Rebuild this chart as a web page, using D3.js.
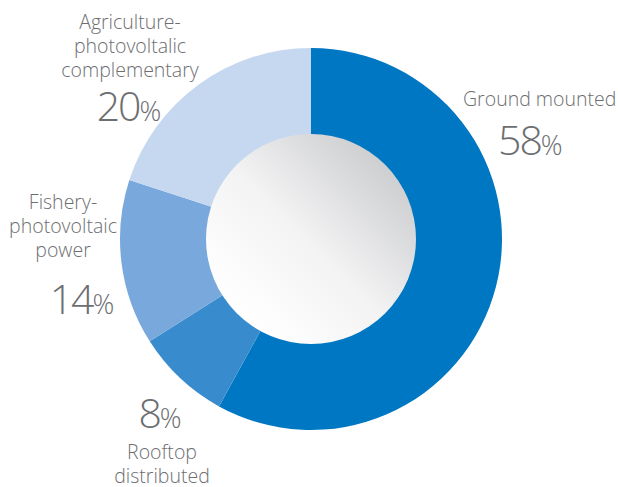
<!DOCTYPE html>
<html>
<head>
<meta charset="utf-8">
<script src="https://cdn.jsdelivr.net/npm/d3@7"></script>
<style>
  html, body { margin: 0; padding: 0; background: #fff; }
  svg { display: block; }
  text { font-family: "Open Sans", sans-serif; fill: #6d6e71; }
</style>
</head>
<body>
<div id="chart"></div>
<script>
// Data
const categories = ["Ground mounted", "Rooftop distributed", "Fishery-photovoltaic power", "Agriculture-photovoltalic complementary"];
const values = [58, 8, 14, 20];
const sliceColors = ["#0077c2", "#388cce", "#79a9dc", "#c6d8ef"];
const labelLines = [
    ["Ground mounted"],
    ["Rooftop", "distributed"],
    ["Fishery-", "photovoltaic", "power"],
    ["Agriculture-", "photovoltalic", "complementary"]
];

// Label layout (x of text, baseline of first line, baseline of percent, percent x, percent anchor)
const labelLayout = [
    { x: 463, anchor: "start", y: 106, px: 498, py: 155, panchor: "start" },
    { x: 162, anchor: "middle", y: 459, px: 160, py: 428, panchor: "middle" },
    { x: 63, anchor: "middle", y: 209, px: 82, py: 314, panchor: "middle" },
    { x: 130, anchor: "middle", y: 29, px: 129, py: 121, panchor: "middle" }
];

const width = 618;
const height = 487;
const cx = 311, cy = 239;
const outerR = 191, innerR = 105;

const svg = d3.select('#chart')
    .append('svg')
    .attr('width', width)
    .attr('height', height);

const defs = svg.append('defs');
const grad = defs.append('linearGradient')
    .attr('id', 'holeGrad')
    .attr('x1', '15%').attr('y1', '85%')
    .attr('x2', '90%').attr('y2', '10%');
grad.append('stop').attr('offset', '0%').attr('stop-color', '#ffffff');
grad.append('stop').attr('offset', '45%').attr('stop-color', '#f3f3f4');
grad.append('stop').attr('offset', '100%').attr('stop-color', '#c9cacc');

const pie = d3.pie().sort(null).value(d => d);
const arc = d3.arc().innerRadius(0).outerRadius(outerR);

const g = svg.append('g').attr('transform', `translate(${cx},${cy})`);

g.selectAll('path')
    .data(pie(values))
    .enter().append('path')
    .attr('d', arc)
    .attr('fill', (d, i) => sliceColors[i]);

g.append('circle')
    .attr('r', innerR)
    .attr('fill', 'url(#holeGrad)');

// Labels
const lineH = 24;
labelLines.forEach((lines, i) => {
    const L = labelLayout[i];
    const t = svg.append('text')
        .attr('text-anchor', L.anchor)
        .attr('font-size', 19.5)
        .attr('font-weight', 300);
    lines.forEach((s, j) => {
        t.append('tspan')
            .attr('x', L.x)
            .attr('y', L.y + j * lineH)
            .text(s);
    });

    const p = svg.append('text')
        .attr('x', L.px)
        .attr('y', L.py)
        .attr('text-anchor', L.panchor)
        .attr('font-size', 41)
        .attr('font-weight', 300)
        .attr('letter-spacing', -2);
    p.append('tspan').text(values[i]);
    p.append('tspan').attr('font-size', 27).attr('letter-spacing', 0).text('%');
});
</script>
</body>
</html>
